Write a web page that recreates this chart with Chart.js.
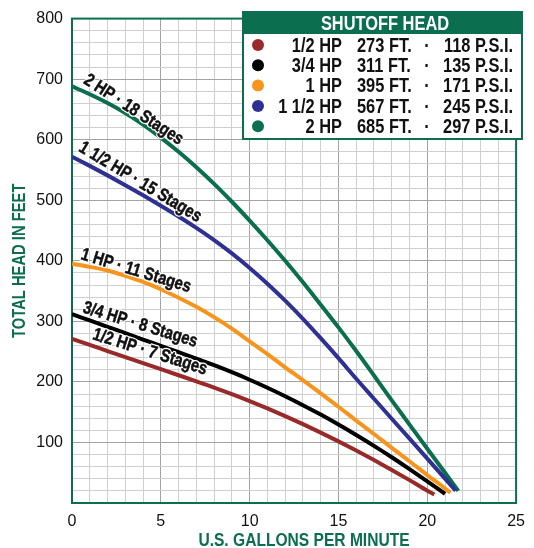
<!DOCTYPE html>
<html>
<head>
<meta charset="utf-8">
<script src="https://cdn.jsdelivr.net/npm/chart.js@4/dist/chart.umd.min.js"></script>
<style>
html,body{margin:0;padding:0;background:#fff;}
#wrap{width:534px;height:548px;}
</style>
</head>
<body>
<div id="wrap"><canvas id="c" width="534" height="548"></canvas></div>
<script>
// ---- data ----
const hpNames      = ['1/2 HP', '3/4 HP', '1 HP', '1 1/2 HP', '2 HP'];
const stageLabels  = ['1/2 HP · 7 Stages', '3/4 HP · 8 Stages', '1 HP · 11 Stages', '1 1/2 HP · 15 Stages', '2 HP · 18 Stages'];
const shutoffFeet  = [273, 311, 395, 567, 685];
const shutoffPsi   = [118, 135, 171, 245, 297];

const flowHalf     = [0,1,2,3,4,5,6,7,8,9,10,11,12,13,14,15,16,17,18,19,20,20.4];
const headHalf     = [271,261,251,241,231,221,211,201,190.7,179.8,168.3,156.2,143.5,130.2,116.3,101.8,86.7,71,54.7,37.8,20.3,14];

const flowThreeQ   = [0,1,2,3,4,5,6,7,8,9,10,11,12,13,14,15,16,17,18,19,20,21];
const headThreeQ   = [312,301.5,291,280.5,270,259.5,249,238.5,227.6,216,203.6,190.4,176.4,161.6,146,129.6,112.4,94.4,75.6,56,35.8,15];

const flowOne      = [0,1,2,3,4,5,6,7,8,9,10,11,12,13,14,15,16,17,18,19,20,21,21.3];
const headOne      = [395,390,384,375,365,353,339,324,307,288,267,246,224,203,181,159,136,114,91,69,46,24,17];

const flowOneHalf  = [0,1,2,3,4,5,6,7,8,9,10,11,12,13,14,15,16,17,18,19,20,21,21.6];
const headOneHalf  = [572,556.8,541.1,524.9,508.2,491,473.2,454.4,434.2,412.2,388.2,362.2,334.2,304.2,272.2,239.2,205.2,172.2,139.2,106.2,73.2,40.2,20.4];

const flowTwo      = [0,1,2,3,4,5,6,7,8,9,10,11,12,13,14,15,16,17,18,19,20,21,21.75];
const headTwo      = [688,675,660.5,644,625,603.5,580,554.5,527,497.5,466.5,434,400,364.5,327.5,290,251,210.5,169.5,129.5,89.5,50,20];

const xTickMax = 25, yTickMax = 800;
const xTitle = 'U.S. GALLONS PER MINUTE';
const yTitle = 'TOTAL HEAD IN FEET';
const boxTitle = 'SHUTOFF HEAD';

// ---- styles ----
const GREEN = '#0b6e4f';
const seriesColors = ['#982b29', '#000000', '#f7941d', '#2e3192', '#0b6e4f'];
const BOLD = '"Liberation Sans", Arial, sans-serif';
const TICKFONT = '"Liberation Sans", Arial, sans-serif';
const NARROW_X = 0.82;

// label anchors (baseline-left of the text, in data units) and angles
const labelAnchors = [
  {at: [1.11, 271], angle: 17.5},
  {at: [0.56, 315], angle: 17},
  {at: [0.45, 403], angle: 17},
  {at: [0.33, 582], angle: 31},
  {at: [0.6, 694], angle: 33}
];

const flows = [flowHalf, flowThreeQ, flowOne, flowOneHalf, flowTwo];
const heads = [headHalf, headThreeQ, headOne, headOneHalf, headTwo];

const datasets = hpNames.map((n, i) => ({
  label: n,
  data: flows[i].map((f, k) => ({x: f, y: heads[i][k]})),
  borderColor: seriesColors[i],
  backgroundColor: seriesColors[i],
  borderWidth: 4,
  pointRadius: 0,
  borderCapStyle: 'butt',
  cubicInterpolationMode: 'monotone',
  fill: false
}));

// condensed text helper (horizontal squeeze of a bold sans)
function narrowText(ctx, text, x, y, opts) {
  ctx.save();
  ctx.translate(x, y);
  if (opts.rotate) ctx.rotate(opts.rotate);
  ctx.scale(NARROW_X, 1);
  ctx.font = 'bold ' + opts.size + 'px ' + BOLD;
  ctx.textAlign = opts.align || 'left';
  ctx.textBaseline = 'alphabetic';
  if (opts.halo) {
    ctx.lineJoin = 'round';
    ctx.lineWidth = opts.halo;
    ctx.strokeStyle = '#ffffff';
    ctx.strokeText(text, 0, 0);
  }
  ctx.fillStyle = opts.color || '#111111';
  ctx.fillText(text, 0, 0);
  if (opts.thicken) {
    ctx.lineWidth = opts.thicken;
    ctx.strokeStyle = opts.color || '#111111';
    ctx.strokeText(text, 0, 0);
  }
  ctx.restore();
}

const framePlugin = {
  id: 'frame',
  beforeDatasetsDraw(chart) {
    const {ctx, chartArea: a} = chart;
    ctx.save();
    ctx.strokeStyle = GREEN;
    ctx.lineWidth = 2;
    ctx.strokeRect(a.left, a.top, a.right - a.left, a.bottom - a.top);
    ctx.restore();
  }
};

const overlayPlugin = {
  id: 'overlay',
  afterDatasetsDraw(chart) {
    const {ctx, chartArea: a, scales: {x, y}} = chart;
    ctx.save();
    // curve labels
    stageLabels.forEach((t, i) => {
      const an = labelAnchors[i];
      narrowText(ctx, t, x.getPixelForValue(an.at[0]), y.getPixelForValue(an.at[1]),
        {size: 18, rotate: an.angle * Math.PI / 180, halo: 3, thicken: 0.5, color: '#111111'});
    });

    // axis titles
    narrowText(ctx, xTitle, 304, 546, {size: 19, align: 'center', color: GREEN});
    narrowText(ctx, yTitle, 25, (a.top + a.bottom) / 2, {size: 18, align: 'center', rotate: -Math.PI / 2, color: GREEN});

    // shutoff head box
    const bx = 243, by = 12, bw = 279, bh = 127, hh = 22;
    ctx.fillStyle = '#ffffff';
    ctx.fillRect(bx, by, bw, bh);
    ctx.fillStyle = GREEN;
    ctx.fillRect(bx, by, bw, hh);
    ctx.strokeStyle = GREEN;
    ctx.lineWidth = 2;
    ctx.strokeRect(bx, by, bw, bh);

    narrowText(ctx, boxTitle, 385, 30, {size: 20, align: 'center', color: '#ffffff'});

    hpNames.forEach((n, i) => {
      const cy = 45 + i * 20.3;
      const base = cy + 6.8;
      ctx.fillStyle = seriesColors[i];
      ctx.beginPath();
      ctx.arc(258, cy, 6, 0, Math.PI * 2);
      ctx.fill();
      narrowText(ctx, n, 342, base, {size: 20, align: 'right'});
      narrowText(ctx, shutoffFeet[i] + ' FT.', 357, base, {size: 20, align: 'left'});
      narrowText(ctx, '·', 427, base, {size: 20, align: 'center'});
      narrowText(ctx, shutoffPsi[i] + ' P.S.I.', 513, base, {size: 20, align: 'right'});
    });
    ctx.restore();
  }
};

new Chart(document.getElementById('c'), {
  type: 'line',
  data: {datasets},
  options: {
    responsive: false,
    animation: false,
    devicePixelRatio: 1,
    layout: {padding: {top: 12, right: 13, left: 0, bottom: 0}},
    plugins: {legend: {display: false}, tooltip: {enabled: false}},
    scales: {
      x: {
        type: 'linear', min: 0, max: xTickMax,
        ticks: {
          stepSize: 1, autoSkip: false, maxRotation: 0, padding: 9,
          color: '#111111', font: {family: TICKFONT, size: 16},
          callback: v => (v % 5 === 0 ? String(v) : '')
        },
        grid: {
          drawTicks: false, lineWidth: 1,
          color: c => (c.tick && c.tick.value % 5 === 0 ? '#a3a3a3' : '#cfcfcf')
        },
        border: {display: false},
        title: {display: false},
        afterFit: s => { s.height = 45; }
      },
      y: {
        type: 'linear', min: 0, max: yTickMax,
        ticks: {
          stepSize: 20, autoSkip: false, padding: 9,
          color: '#111111', font: {family: TICKFONT, size: 16},
          callback: v => (v % 100 === 0 && v > 0 ? String(v) : '')
        },
        grid: {
          drawTicks: false, lineWidth: 1,
          color: c => (c.tick && c.tick.value % 100 === 0 ? '#a3a3a3' : '#cfcfcf')
        },
        border: {display: false},
        title: {display: false},
        afterFit: s => { s.width = 72; }
      }
    }
  },
  plugins: [framePlugin, overlayPlugin]
});
</script>
</body>
</html>
